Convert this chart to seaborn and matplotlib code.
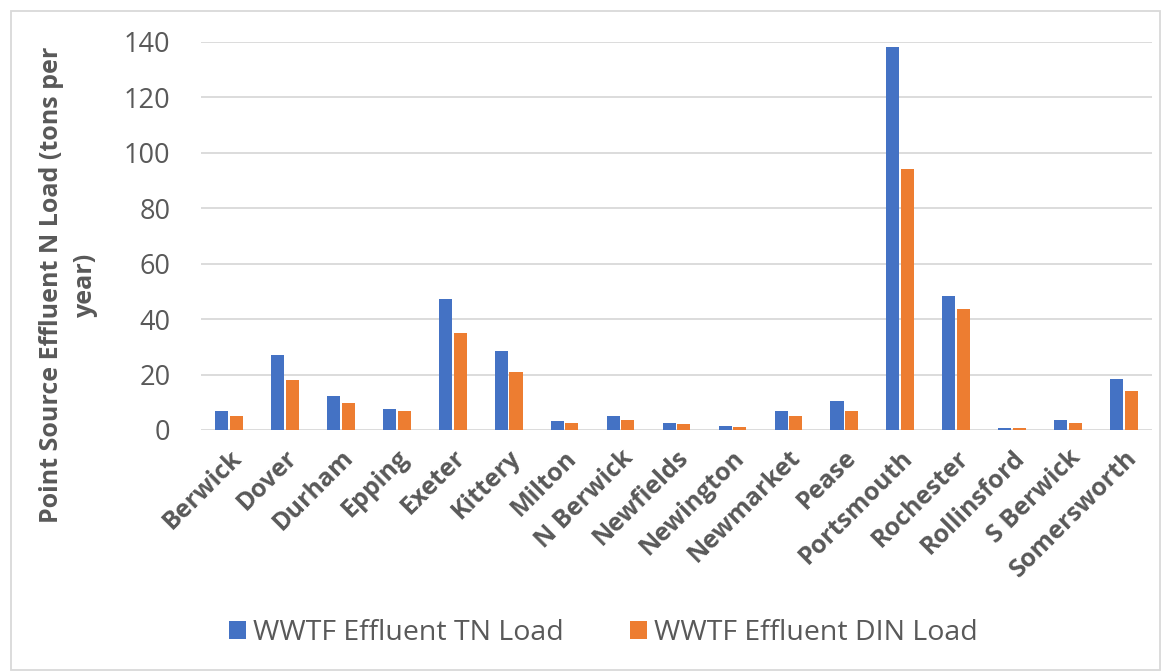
import pandas as pd
import matplotlib
matplotlib.use("Agg")
import matplotlib.pyplot as plt
import seaborn as sns
from matplotlib.patches import Rectangle

# facilities and loads (tons per year)
facilities = ["Berwick", "Dover", "Durham", "Epping", "Exeter", "Kittery", "Milton",
              "N Berwick", "Newfields", "Newington", "Newmarket", "Pease", "Portsmouth",
              "Rochester", "Rollinsford", "S Berwick", "Somersworth"]
tn_load = [7.0, 27.1, 12.4, 7.7, 47.2, 28.5, 3.4, 5.0, 2.5, 1.5, 6.7, 10.3, 138.2,
           48.3, 0.85, 3.6, 18.5]
din_load = [5.0, 18.1, 9.8, 7.0, 35.1, 21.1, 2.4, 3.7, 2.1, 1.0, 5.1, 6.8, 94.1,
            43.6, 0.6, 2.5, 13.9]
series_names = ["WWTF Effluent TN Load", "WWTF Effluent DIN Load"]
yticks = [0, 20, 40, 60, 80, 100, 120, 140]

df = pd.DataFrame({
    "facility": facilities * 2,
    "load": tn_load + din_load,
    "series": [series_names[0]] * len(facilities) + [series_names[1]] * len(facilities),
})

sns.set_style("white")
plt.rcParams["font.family"] = ["Open Sans", "DejaVu Sans"]
grey = "#595959"

fig = plt.figure(figsize=(11.65, 6.72), dpi=100)
ax = fig.add_axes([201 / 1165, 1 - 430 / 672, 951 / 1165, 388 / 672])

sns.barplot(data=df, x="facility", y="load", hue="series", hue_order=series_names,
            palette=["#4472C4", "#ED7D31"], saturation=1, width=0.525, gap=0.11,
            ax=ax, edgecolor="none", zorder=3)

ax.set_ylim(0, 140)
ax.set_xlim(-0.5, len(facilities) - 0.5)
ax.set_yticks(yticks)
ax.yaxis.grid(True, color="#D9D9D9", linewidth=1.3, zorder=0)
ax.set_axisbelow(True)
for s in ax.spines.values():
    s.set_visible(False)
ax.tick_params(axis="both", length=0)
ax.tick_params(axis="y", labelsize=19.5, labelcolor=grey, pad=22)
ax.set_xticks(range(len(facilities)))
ax.set_xticklabels(facilities, rotation=45, ha="right", rotation_mode="anchor",
                   fontsize=18, fontweight="bold", color=grey)
ax.tick_params(axis="x", pad=11)
ax.set_xlabel("")
ax.set_ylabel("")

fig.text(0.059, 0.576, "Point Source Effluent N Load (tons per\nyear)", rotation=90,
         ha="center", va="center", multialignment="center", fontsize=18,
         fontweight="bold", color=grey, linespacing=1.45)

handles, labels = ax.get_legend_handles_labels()
ax.legend_.remove()
fig.legend(handles, labels, loc="center", bbox_to_anchor=(0.518, 0.058), ncol=2,
           frameon=False, fontsize=20.5, labelcolor=grey, handlelength=0.6,
           handleheight=0.6, handletextpad=0.25, columnspacing=2.3)

# light chart-area frame
fig.patches.append(Rectangle((11 / 1165, 2 / 672), 1 - 16 / 1165, 1 - 13 / 672,
                             transform=fig.transFigure, fill=False,
                             edgecolor="#D9D9D9", linewidth=1.3))

fig.savefig("out.png", dpi=100)
